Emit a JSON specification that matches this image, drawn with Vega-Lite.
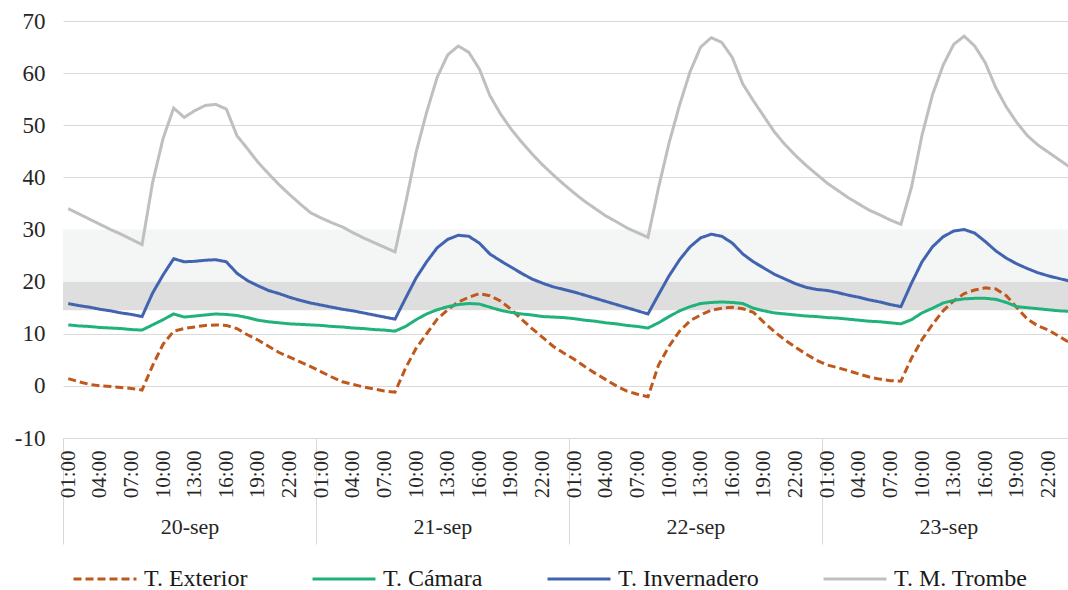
{
  "$schema": "https://vega.github.io/schema/vega-lite/v6.json",
  "width": 1005,
  "height": 417,
  "padding": {"left": 14, "top": 10, "right": 0, "bottom": 0},
  "background": "white",
  "config": {
    "view": {"stroke": null},
    "font": "Liberation Serif",
    "axis": {"labelFont": "Liberation Serif", "labelColor": "#262626", "title": null},
    "legend": {"labelFont": "Liberation Serif", "labelColor": "#262626"}
  },
  "datasets": {
    "bandas": [
      {"zona": "baja", "lo": 14.5, "hi": 20},
      {"zona": "alta", "lo": 20, "hi": 30}
    ],
    "temps": [
      {"t": "2023-09-20T01:00", "ext": 1.4, "cam": 11.7, "inv": 15.8, "tro": 34.0},
      {"t": "2023-09-20T02:00", "ext": 0.8, "cam": 11.5, "inv": 15.4, "tro": 33.0},
      {"t": "2023-09-20T03:00", "ext": 0.3, "cam": 11.4, "inv": 15.1, "tro": 32.0},
      {"t": "2023-09-20T04:00", "ext": 0.0, "cam": 11.2, "inv": 14.7, "tro": 31.0},
      {"t": "2023-09-20T05:00", "ext": -0.1, "cam": 11.1, "inv": 14.4, "tro": 30.0},
      {"t": "2023-09-20T06:00", "ext": -0.3, "cam": 11.0, "inv": 14.0, "tro": 29.1},
      {"t": "2023-09-20T07:00", "ext": -0.5, "cam": 10.8, "inv": 13.7, "tro": 28.1},
      {"t": "2023-09-20T08:00", "ext": -0.8, "cam": 10.7, "inv": 13.3, "tro": 27.1},
      {"t": "2023-09-20T09:00", "ext": 3.9, "cam": 11.7, "inv": 17.8, "tro": 39.0},
      {"t": "2023-09-20T10:00", "ext": 8.0, "cam": 12.7, "inv": 21.3, "tro": 47.5},
      {"t": "2023-09-20T11:00", "ext": 10.5, "cam": 13.8, "inv": 24.4, "tro": 53.3},
      {"t": "2023-09-20T12:00", "ext": 11.0, "cam": 13.2, "inv": 23.8, "tro": 51.5},
      {"t": "2023-09-20T13:00", "ext": 11.3, "cam": 13.4, "inv": 23.9, "tro": 52.8},
      {"t": "2023-09-20T14:00", "ext": 11.6, "cam": 13.6, "inv": 24.1, "tro": 53.8},
      {"t": "2023-09-20T15:00", "ext": 11.7, "cam": 13.8, "inv": 24.2, "tro": 54.0},
      {"t": "2023-09-20T16:00", "ext": 11.6, "cam": 13.7, "inv": 23.8, "tro": 53.1},
      {"t": "2023-09-20T17:00", "ext": 11.0, "cam": 13.5, "inv": 21.6, "tro": 48.0},
      {"t": "2023-09-20T18:00", "ext": 9.8, "cam": 13.1, "inv": 20.2, "tro": 45.5},
      {"t": "2023-09-20T19:00", "ext": 8.8, "cam": 12.6, "inv": 19.2, "tro": 42.9},
      {"t": "2023-09-20T20:00", "ext": 7.6, "cam": 12.3, "inv": 18.3, "tro": 40.7},
      {"t": "2023-09-20T21:00", "ext": 6.4, "cam": 12.1, "inv": 17.7, "tro": 38.6},
      {"t": "2023-09-20T22:00", "ext": 5.5, "cam": 11.9, "inv": 17.0, "tro": 36.7},
      {"t": "2023-09-20T23:00", "ext": 4.6, "cam": 11.8, "inv": 16.4, "tro": 34.9},
      {"t": "2023-09-21T00:00", "ext": 3.7, "cam": 11.7, "inv": 15.9, "tro": 33.2},
      {"t": "2023-09-21T01:00", "ext": 2.7, "cam": 11.6, "inv": 15.5, "tro": 32.2},
      {"t": "2023-09-21T02:00", "ext": 1.7, "cam": 11.4, "inv": 15.1, "tro": 31.3},
      {"t": "2023-09-21T03:00", "ext": 0.8, "cam": 11.3, "inv": 14.7, "tro": 30.5},
      {"t": "2023-09-21T04:00", "ext": 0.3, "cam": 11.1, "inv": 14.4, "tro": 29.4},
      {"t": "2023-09-21T05:00", "ext": -0.2, "cam": 11.0, "inv": 14.0, "tro": 28.4},
      {"t": "2023-09-21T06:00", "ext": -0.6, "cam": 10.8, "inv": 13.6, "tro": 27.5},
      {"t": "2023-09-21T07:00", "ext": -1.0, "cam": 10.7, "inv": 13.2, "tro": 26.6},
      {"t": "2023-09-21T08:00", "ext": -1.2, "cam": 10.5, "inv": 12.8, "tro": 25.7},
      {"t": "2023-09-21T09:00", "ext": 3.4, "cam": 11.4, "inv": 16.8, "tro": 35.0},
      {"t": "2023-09-21T10:00", "ext": 7.2, "cam": 12.7, "inv": 20.7, "tro": 44.8},
      {"t": "2023-09-21T11:00", "ext": 10.0, "cam": 13.8, "inv": 23.8, "tro": 52.5},
      {"t": "2023-09-21T12:00", "ext": 12.8, "cam": 14.6, "inv": 26.5, "tro": 59.2},
      {"t": "2023-09-21T13:00", "ext": 14.6, "cam": 15.2, "inv": 28.1, "tro": 63.5},
      {"t": "2023-09-21T14:00", "ext": 16.1, "cam": 15.6, "inv": 28.9, "tro": 65.2},
      {"t": "2023-09-21T15:00", "ext": 17.0, "cam": 15.8, "inv": 28.7, "tro": 64.0},
      {"t": "2023-09-21T16:00", "ext": 17.7, "cam": 15.7, "inv": 27.4, "tro": 60.8},
      {"t": "2023-09-21T17:00", "ext": 17.3, "cam": 15.1, "inv": 25.3, "tro": 55.7},
      {"t": "2023-09-21T18:00", "ext": 16.3, "cam": 14.5, "inv": 24.0, "tro": 52.2},
      {"t": "2023-09-21T19:00", "ext": 14.7, "cam": 14.1, "inv": 22.8, "tro": 49.3},
      {"t": "2023-09-21T20:00", "ext": 12.8, "cam": 13.8, "inv": 21.6, "tro": 46.8},
      {"t": "2023-09-21T21:00", "ext": 11.0, "cam": 13.6, "inv": 20.5, "tro": 44.5},
      {"t": "2023-09-21T22:00", "ext": 9.3, "cam": 13.3, "inv": 19.7, "tro": 42.4},
      {"t": "2023-09-21T23:00", "ext": 7.6, "cam": 13.2, "inv": 19.0, "tro": 40.5},
      {"t": "2023-09-22T00:00", "ext": 6.3, "cam": 13.1, "inv": 18.5, "tro": 38.7},
      {"t": "2023-09-22T01:00", "ext": 5.1, "cam": 12.9, "inv": 18.0, "tro": 37.0},
      {"t": "2023-09-22T02:00", "ext": 3.7, "cam": 12.6, "inv": 17.4, "tro": 35.4},
      {"t": "2023-09-22T03:00", "ext": 2.4, "cam": 12.4, "inv": 16.8, "tro": 34.0},
      {"t": "2023-09-22T04:00", "ext": 1.2, "cam": 12.1, "inv": 16.2, "tro": 32.6},
      {"t": "2023-09-22T05:00", "ext": 0.0, "cam": 11.9, "inv": 15.6, "tro": 31.5},
      {"t": "2023-09-22T06:00", "ext": -1.0, "cam": 11.6, "inv": 15.0, "tro": 30.3},
      {"t": "2023-09-22T07:00", "ext": -1.6, "cam": 11.4, "inv": 14.4, "tro": 29.4},
      {"t": "2023-09-22T08:00", "ext": -2.1, "cam": 11.1, "inv": 13.8, "tro": 28.5},
      {"t": "2023-09-22T09:00", "ext": 4.0, "cam": 12.1, "inv": 17.5, "tro": 38.0},
      {"t": "2023-09-22T10:00", "ext": 7.6, "cam": 13.3, "inv": 21.1, "tro": 46.6},
      {"t": "2023-09-22T11:00", "ext": 10.5, "cam": 14.4, "inv": 24.2, "tro": 53.9},
      {"t": "2023-09-22T12:00", "ext": 12.5, "cam": 15.2, "inv": 26.7, "tro": 60.3},
      {"t": "2023-09-22T13:00", "ext": 13.6, "cam": 15.8, "inv": 28.4, "tro": 65.0},
      {"t": "2023-09-22T14:00", "ext": 14.5, "cam": 16.0, "inv": 29.1, "tro": 66.8},
      {"t": "2023-09-22T15:00", "ext": 14.9, "cam": 16.1, "inv": 28.7, "tro": 65.9},
      {"t": "2023-09-22T16:00", "ext": 15.1, "cam": 16.0, "inv": 27.4, "tro": 63.0},
      {"t": "2023-09-22T17:00", "ext": 14.8, "cam": 15.8, "inv": 25.3, "tro": 57.9},
      {"t": "2023-09-22T18:00", "ext": 14.1, "cam": 14.9, "inv": 23.8, "tro": 54.7},
      {"t": "2023-09-22T19:00", "ext": 12.2, "cam": 14.4, "inv": 22.6, "tro": 51.7},
      {"t": "2023-09-22T20:00", "ext": 10.4, "cam": 14.0, "inv": 21.4, "tro": 48.7},
      {"t": "2023-09-22T21:00", "ext": 8.8, "cam": 13.8, "inv": 20.5, "tro": 46.3},
      {"t": "2023-09-22T22:00", "ext": 7.4, "cam": 13.6, "inv": 19.6, "tro": 44.2},
      {"t": "2023-09-22T23:00", "ext": 6.1, "cam": 13.4, "inv": 18.9, "tro": 42.3},
      {"t": "2023-09-23T00:00", "ext": 4.9, "cam": 13.3, "inv": 18.5, "tro": 40.6},
      {"t": "2023-09-23T01:00", "ext": 4.0, "cam": 13.1, "inv": 18.3, "tro": 38.9},
      {"t": "2023-09-23T02:00", "ext": 3.5, "cam": 13.0, "inv": 17.9, "tro": 37.5},
      {"t": "2023-09-23T03:00", "ext": 2.9, "cam": 12.8, "inv": 17.4, "tro": 36.1},
      {"t": "2023-09-23T04:00", "ext": 2.3, "cam": 12.6, "inv": 17.0, "tro": 34.9},
      {"t": "2023-09-23T05:00", "ext": 1.7, "cam": 12.4, "inv": 16.5, "tro": 33.7},
      {"t": "2023-09-23T06:00", "ext": 1.3, "cam": 12.3, "inv": 16.1, "tro": 32.8},
      {"t": "2023-09-23T07:00", "ext": 1.0, "cam": 12.1, "inv": 15.6, "tro": 31.8},
      {"t": "2023-09-23T08:00", "ext": 0.9, "cam": 11.9, "inv": 15.2, "tro": 31.0},
      {"t": "2023-09-23T09:00", "ext": 5.3, "cam": 12.7, "inv": 19.7, "tro": 38.1},
      {"t": "2023-09-23T10:00", "ext": 8.9, "cam": 14.0, "inv": 23.8, "tro": 48.1},
      {"t": "2023-09-23T11:00", "ext": 11.8, "cam": 14.9, "inv": 26.7, "tro": 55.9},
      {"t": "2023-09-23T12:00", "ext": 14.4, "cam": 15.9, "inv": 28.6, "tro": 61.5},
      {"t": "2023-09-23T13:00", "ext": 16.3, "cam": 16.4, "inv": 29.7, "tro": 65.5},
      {"t": "2023-09-23T14:00", "ext": 17.7, "cam": 16.7, "inv": 30.0, "tro": 67.1},
      {"t": "2023-09-23T15:00", "ext": 18.4, "cam": 16.8, "inv": 29.3, "tro": 65.2},
      {"t": "2023-09-23T16:00", "ext": 18.8, "cam": 16.8, "inv": 27.7, "tro": 62.0},
      {"t": "2023-09-23T17:00", "ext": 18.6, "cam": 16.6, "inv": 25.9, "tro": 57.2},
      {"t": "2023-09-23T18:00", "ext": 17.3, "cam": 16.0, "inv": 24.5, "tro": 53.5},
      {"t": "2023-09-23T19:00", "ext": 15.0, "cam": 15.2, "inv": 23.4, "tro": 50.5},
      {"t": "2023-09-23T20:00", "ext": 12.8, "cam": 15.0, "inv": 22.5, "tro": 48.0},
      {"t": "2023-09-23T21:00", "ext": 11.5, "cam": 14.8, "inv": 21.7, "tro": 46.2},
      {"t": "2023-09-23T22:00", "ext": 10.7, "cam": 14.6, "inv": 21.1, "tro": 44.8},
      {"t": "2023-09-23T23:00", "ext": 9.5, "cam": 14.4, "inv": 20.6, "tro": 43.4},
      {"t": "2023-09-24T00:00", "ext": 8.3, "cam": 14.3, "inv": 20.1, "tro": 42.0}
    ]
  },
  "resolve": {"scale": {"x": "independent"}},
  "encoding": {
    "y": {
      "type": "quantitative",
      "scale": {"domain": [-10, 70], "nice": false, "zero": false},
      "axis": {
        "values": [-10, 0, 10, 20, 30, 40, 50, 60, 70],
        "labelExpr": "'' + datum.value",
        "grid": true,
        "gridColor": "#d9d9d9",
        "gridWidth": 1,
        "domain": false,
        "ticks": false,
        "labelFontSize": 23,
        "labelPadding": 18,
        "title": null
      }
    }
  },
  "layer": [
    {
      "data": {"name": "bandas"},
      "transform": [{"filter": "datum.zona == 'alta'"}],
      "mark": {"type": "rect", "color": "#f4f5f5"},
      "encoding": {
        "y": {"field": "lo", "type": "quantitative"},
        "y2": {"field": "hi"}
      }
    },
    {
      "data": {"name": "bandas"},
      "transform": [{"filter": "datum.zona == 'baja'"}],
      "mark": {"type": "rect", "color": "#dedede"},
      "encoding": {
        "y": {"field": "lo", "type": "quantitative"},
        "y2": {"field": "hi"}
      }
    },
    {
      "data": {"name": "temps"},
      "mark": {"type": "rule", "strokeOpacity": 0},
      "encoding": {
        "x": {
          "field": "t",
          "type": "temporal",
          "scale": {
            "domain": [
              {"year": 2023, "month": 9, "date": 20, "hours": 0, "minutes": 30},
              {"year": 2023, "month": 9, "date": 23, "hours": 23, "minutes": 51}
            ],
            "nice": false
          },
          "axis": {
            "orient": "bottom",
            "values": [
              {"year": 2023, "month": 9, "date": 20, "hours": 0, "minutes": 30},
              {"year": 2023, "month": 9, "date": 21, "hours": 0, "minutes": 30},
              {"year": 2023, "month": 9, "date": 22, "hours": 0, "minutes": 30},
              {"year": 2023, "month": 9, "date": 23, "hours": 0, "minutes": 30}
            ],
            "labels": false,
            "domain": false,
            "grid": false,
            "ticks": true,
            "tickSize": 106,
            "tickColor": "#d9d9d9",
            "tickWidth": 1,
            "title": null
          }
        }
      }
    },
    {
      "data": {"name": "temps"},
      "mark": {"type": "rule", "strokeOpacity": 0},
      "encoding": {
        "x": {
          "field": "t",
          "type": "temporal",
          "scale": {
            "domain": [
              {"year": 2023, "month": 9, "date": 20, "hours": 0, "minutes": 30},
              {"year": 2023, "month": 9, "date": 23, "hours": 23, "minutes": 51}
            ],
            "nice": false
          },
          "axis": {
            "orient": "bottom",
            "values": [
              {"year": 2023, "month": 9, "date": 20, "hours": 12, "minutes": 30},
              {"year": 2023, "month": 9, "date": 21, "hours": 12, "minutes": 30},
              {"year": 2023, "month": 9, "date": 22, "hours": 12, "minutes": 30},
              {"year": 2023, "month": 9, "date": 23, "hours": 12, "minutes": 30}
            ],
            "format": "%d-sep",
            "labelFontSize": 22,
            "labelPadding": 78,
            "labelFlush": false,
            "labelOverlap": false,
            "domain": false,
            "grid": false,
            "ticks": false,
            "title": null
          }
        }
      }
    },
    {
      "data": {"name": "temps"},
      "transform": [{"fold": ["ext", "cam", "inv", "tro"], "as": ["serie", "temp"]}],
      "mark": {"type": "line", "strokeWidth": 3, "clip": true},
      "encoding": {
        "x": {
          "field": "t",
          "type": "temporal",
          "scale": {
            "domain": [
              {"year": 2023, "month": 9, "date": 20, "hours": 0, "minutes": 30},
              {"year": 2023, "month": 9, "date": 23, "hours": 23, "minutes": 51}
            ],
            "nice": false
          },
          "axis": {
            "orient": "bottom",
            "values": [
              {"year": 2023, "month": 9, "date": 20, "hours": 1},
              {"year": 2023, "month": 9, "date": 20, "hours": 4},
              {"year": 2023, "month": 9, "date": 20, "hours": 7},
              {"year": 2023, "month": 9, "date": 20, "hours": 10},
              {"year": 2023, "month": 9, "date": 20, "hours": 13},
              {"year": 2023, "month": 9, "date": 20, "hours": 16},
              {"year": 2023, "month": 9, "date": 20, "hours": 19},
              {"year": 2023, "month": 9, "date": 20, "hours": 22},
              {"year": 2023, "month": 9, "date": 21, "hours": 1},
              {"year": 2023, "month": 9, "date": 21, "hours": 4},
              {"year": 2023, "month": 9, "date": 21, "hours": 7},
              {"year": 2023, "month": 9, "date": 21, "hours": 10},
              {"year": 2023, "month": 9, "date": 21, "hours": 13},
              {"year": 2023, "month": 9, "date": 21, "hours": 16},
              {"year": 2023, "month": 9, "date": 21, "hours": 19},
              {"year": 2023, "month": 9, "date": 21, "hours": 22},
              {"year": 2023, "month": 9, "date": 22, "hours": 1},
              {"year": 2023, "month": 9, "date": 22, "hours": 4},
              {"year": 2023, "month": 9, "date": 22, "hours": 7},
              {"year": 2023, "month": 9, "date": 22, "hours": 10},
              {"year": 2023, "month": 9, "date": 22, "hours": 13},
              {"year": 2023, "month": 9, "date": 22, "hours": 16},
              {"year": 2023, "month": 9, "date": 22, "hours": 19},
              {"year": 2023, "month": 9, "date": 22, "hours": 22},
              {"year": 2023, "month": 9, "date": 23, "hours": 1},
              {"year": 2023, "month": 9, "date": 23, "hours": 4},
              {"year": 2023, "month": 9, "date": 23, "hours": 7},
              {"year": 2023, "month": 9, "date": 23, "hours": 10},
              {"year": 2023, "month": 9, "date": 23, "hours": 13},
              {"year": 2023, "month": 9, "date": 23, "hours": 16},
              {"year": 2023, "month": 9, "date": 23, "hours": 19},
              {"year": 2023, "month": 9, "date": 23, "hours": 22}
            ],
            "format": "%H:%M",
            "labelAngle": 270,
            "labelFontSize": 21,
            "labelPadding": 12,
            "labelFlush": false,
            "labelOverlap": false,
            "labelBound": false,
            "domain": true,
            "domainColor": "#d9d9d9",
            "grid": false,
            "ticks": false,
            "title": null
          }
        },
        "y": {"field": "temp", "type": "quantitative"},
        "color": {
          "field": "serie",
          "type": "nominal",
          "scale": {
            "domain": ["ext", "cam", "inv", "tro"],
            "range": ["#c0581c", "#20b27a", "#4163b0", "#bfbfbf"]
          },
          "legend": {
            "orient": "bottom",
            "direction": "horizontal",
            "columns": 4,
            "title": null,
            "labelExpr": "datum.value == 'ext' ? 'T. Exterior' : datum.value == 'cam' ? 'T. Cámara' : datum.value == 'inv' ? 'T. Invernadero' : 'T. M. Trombe'",
            "symbolType": "stroke",
            "symbolSize": 3969,
            "symbolStrokeWidth": 3,
            "labelFont": "Liberation Serif",
            "labelFontSize": 24,
            "labelColor": "#1a1a1a",
            "labelOffset": 6,
            "labelLimit": 400,
            "columnPadding": 58,
            "gridAlign": "none",
            "offset": -8,
            "padding": 9
          }
        },
        "strokeDash": {
          "field": "serie",
          "type": "nominal",
          "scale": {
            "domain": ["ext", "cam", "inv", "tro"],
            "range": [[8, 4], [1, 0], [1, 0], [1, 0]]
          },
          "legend": {
            "orient": "bottom",
            "direction": "horizontal",
            "columns": 4,
            "title": null,
            "labelExpr": "datum.value == 'ext' ? 'T. Exterior' : datum.value == 'cam' ? 'T. Cámara' : datum.value == 'inv' ? 'T. Invernadero' : 'T. M. Trombe'",
            "symbolType": "stroke",
            "symbolSize": 3969,
            "symbolStrokeWidth": 3,
            "labelFont": "Liberation Serif",
            "labelFontSize": 24,
            "labelColor": "#1a1a1a",
            "labelOffset": 6,
            "labelLimit": 400,
            "columnPadding": 58,
            "gridAlign": "none",
            "offset": -8,
            "padding": 9
          }
        }
      }
    }
  ]
}
